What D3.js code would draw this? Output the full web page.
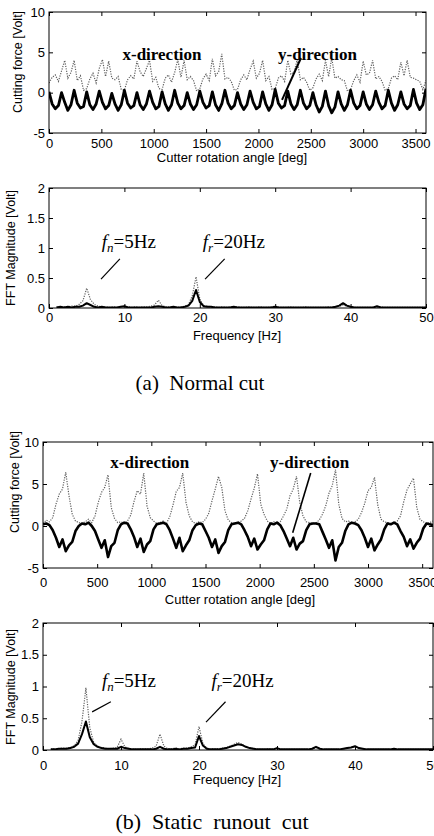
<!DOCTYPE html>
<html>
<head>
<meta charset="utf-8">
<script src="https://cdn.jsdelivr.net/npm/d3@7/dist/d3.min.js"></script>
<style>
  body { margin: 0; background: #fff; }
  text { font-family: "Liberation Sans", Arial, sans-serif; fill: #000; }
  .serif { font-family: "Liberation Serif", "Times New Roman", serif; white-space: pre; }
</style>
</head>
<body>
<div id="chart"></div>
<script>
// x grids (cutter angle every 30 deg, FFT bins every 0.5 Hz from 1 Hz)
var angles = d3.range(0, 3601, 30);
var freqs = d3.range(1, 50.001, 0.5);

var angleTicks = [0, 500, 1000, 1500, 2000, 2500, 3000, 3500];
var forceTicks = [-5, 0, 5, 10];
var freqTicks = [0, 10, 20, 30, 40, 50];
var magTicks = [0, 0.5, 1, 1.5, 2];

// (a) normal cut, cutting force [Volt]
var normalX = [
  1.2, 1.9, 2.2, 1.4, 2.7, 4.0, 1.8, 2.5, 4.0, 1.5, 2.1, 0.3,
  0.5, 1.7, 2.4, 1.2, 3.0, 4.1, 2.0, 3.9, 1.8, 1.6, 2.0, 0.4,
  0.3, 1.6, 2.1, 1.7, 3.9, 2.6, 2.0, 3.0, 4.0, 1.4, 1.9, 0.5,
  0.4, 1.8, 2.2, 1.3, 2.5, 4.1, 1.9, 4.0, 1.6, 2.0, 1.5, 0.2,
  0.5, 1.7, 2.3, 1.5, 4.2, 2.1, 2.6, 4.8, 1.7, 1.9, 1.4, 0.3,
  0.4, 1.6, 2.2, 1.6, 2.9, 3.9, 1.8, 2.4, 4.0, 1.5, 2.0, 0.4,
  0.5, 1.8, 2.1, 1.4, 4.0, 2.3, 2.5, 4.1, 1.6, 1.9, 1.3, 0.3,
  0.6, 1.7, 2.3, 1.5, 4.0, 2.0, 4.3, 1.8, 2.0, 1.6, 1.5, 0.2,
  0.4, 1.5, 2.2, 1.3, 3.9, 2.2, 2.4, 4.0, 1.7, 2.0, 1.4, 0.3,
  0.5, 1.8, 2.1, 1.6, 3.8, 2.1, 4.0, 1.9, 1.8, 1.6, 1.4, 0.4,
  1.5
];
var normalY = [
  0.1, -1.4, -2.0, -1.6,   0.0, -1.2, -2.2, -1.5,   0.3, -1.3, -1.9, -1.7,
  0.1, -1.5, -2.1, -1.4,   0.2, -1.2, -2.0, -1.6,  -0.1, -1.4, -2.2, -1.5,
  0.3, -1.3, -1.9, -1.6,   0.0, -1.5, -2.1, -1.4,   0.2, -1.2, -2.0, -1.7,
  0.1, -1.4, -2.2, -1.5,   0.3, -1.3, -2.0, -1.6,   0.0, -1.4, -2.1, -1.5,
  0.2, -1.2, -1.9, -1.6,   0.1, -1.5, -2.2, -1.4,   0.3, -1.3, -2.0, -1.6,
  0.0, -1.4, -2.1, -1.5,   0.2, -1.2, -2.0, -1.7,   0.1, -1.4, -2.2, -1.5,
  0.4, -1.3, -1.9, -1.6,   0.2, -1.4, -2.1, -1.5,   0.3, -1.3, -2.0, -1.6,
  0.0, -1.5, -2.4, -1.7,   0.2, -1.6, -2.5, -1.8,   0.1, -1.4, -2.2, -1.5,
  0.3, -1.3, -2.0, -1.6,   0.1, -1.4, -2.1, -1.5,   0.2, -1.2, -2.0, -1.6,
  0.3, -1.3, -2.2, -1.5,   0.1, -1.4, -2.0, -1.6,   0.4, -1.3, -2.1, -1.5,
  0.5
];

// (b) static runout cut, cutting force [Volt]
var runoutX = [
  0.3, 0.7, 0.5, 1.0, 2.6, 3.8, 4.4, 6.4, 3.6, 1.4, 0.6, 0.4,
  0.3, 0.5, 0.8, 0.4, 1.2, 2.8, 4.0, 4.6, 6.1, 2.2, 0.9, 0.4,
  0.5, 0.3, 0.6, 1.3, 2.9, 4.2, 3.8, 6.3, 2.4, 1.0, 0.6, 0.3,
  0.4, 0.6, 0.3, 1.1, 2.5, 4.1, 4.6, 6.3, 2.8, 1.2, 0.5, 0.3,
  0.5, 0.4, 0.8, 1.5, 3.0, 4.4, 5.9, 4.6, 1.8, 0.7, 0.4, 0.3,
  0.4, 0.6, 0.9, 1.8, 3.2, 4.5, 6.2, 2.6, 1.4, 0.6, 0.3, 0.5,
  0.3, 0.5, 1.2, 2.0, 3.6, 4.4, 5.9, 2.8, 1.2, 0.5, 0.4, 0.3,
  0.4, 0.7, 1.4, 2.4, 3.9, 4.8, 6.7, 2.6, 0.9, 0.5, 0.6, 0.3,
  0.5, 0.8, 1.6, 2.7, 4.2, 4.6, 5.8, 2.5, 0.8, 0.5, 0.4, 0.3,
  0.4, 0.6, 1.2, 2.9, 4.3, 5.0, 5.7, 2.2, 0.8, 0.5, 0.3, 0.4,
  0.6
];
var runoutY = [
  0.2, 0.3, 0.1, -0.5, -1.4, -2.5, -1.6, -3.0, -2.3, -1.9, -0.6, 0.0,
  0.3, 0.2, 0.4, 0.0, -0.6, -1.6, -2.6, -1.7, -3.7, -2.4, -2.0, -0.5,
  0.2, 0.4, 0.3, -0.4, -1.3, -2.5, -1.5, -3.1, -2.2, -1.8, -0.4, 0.2,
  0.3, 0.4, 0.2, -0.5, -1.5, -2.6, -1.4, -3.0, -2.3, -1.7, -0.5, 0.1,
  0.3, 0.2, -0.6, -1.4, -2.5, -1.6, -3.2, -2.4, -1.9, -0.5, 0.2, 0.3,
  0.4, 0.2, -0.5, -1.3, -2.4, -1.5, -2.8, -2.2, -1.7, -0.4, 0.3, 0.2,
  0.4, 0.1, -0.6, -1.5, -2.4, -1.4, -2.8, -2.1, -1.8, -0.5, 0.2, 0.3,
  0.3, 0.2, -0.7, -1.6, -2.6, -1.7, -4.1, -2.5, -2.0, -0.6, 0.2, 0.4,
  0.3, 0.1, -0.5, -1.4, -2.5, -1.5, -2.9, -2.2, -1.6, -0.4, 0.3, 0.2,
  0.4, 0.2, -0.6, -1.3, -2.4, -1.6, -2.7, -2.0, -1.5, -0.3, 0.3, 0.2,
  0.1
];

// FFT magnitude [Volt], 1.0 .. 50.0 Hz
var normalFftX = [
  .02, .01, .02, .02, .03, .03, .06, .12, .33, .14,
  .06, .03, .02, .02, .01, .02, .01, .02, .03, .02,
  .01, .02, .01, .02, .02, .03, .05, .13, .04, .02,
  .02, .02, .01, .02, .03, .06, .20, .52, .15, .04,
  .03, .02, .02, .01, .02, .01, .02, .01, .02, .01,
  .01, .02, .01, .01, .02, .01, .01, .02, .03, .01,
  .01, .01, .02, .01, .01, .01, .02, .01, .01, .01,
  .01, .01, .02, .01, .02, .03, .05, .03, .02, .01,
  .01, .01, .01, .01, .01, .02, .02, .01, .01, .01,
  .01, .01, .01, .01, .01, .01, .01, .01, .01
];
var normalFftY = [
  .01, .02, .01, .02, .01, .02, .02, .04, .08, .05,
  .02, .01, .02, .01, .01, .01, .01, .02, .03, .01,
  .01, .01, .01, .01, .01, .01, .02, .03, .02, .01,
  .01, .02, .01, .01, .02, .04, .12, .30, .10, .03,
  .02, .02, .01, .01, .01, .01, .01, .02, .01, .01,
  .01, .01, .01, .01, .01, .01, .01, .01, .02, .01,
  .01, .01, .01, .01, .01, .01, .01, .01, .01, .01,
  .01, .01, .01, .01, .02, .04, .08, .04, .02, .01,
  .01, .01, .01, .01, .01, .03, .01, .01, .01, .01,
  .01, .01, .01, .01, .01, .01, .01, .01, .01
];
var runoutFftX = [
  .01, .02, .02, .03, .03, .04, .07, .15, .45, .98,
  .35, .12, .06, .04, .03, .02, .03, .04, .17, .05,
  .02, .02, .01, .02, .02, .02, .03, .06, .25, .06,
  .02, .02, .03, .02, .03, .03, .05, .08, .37, .10,
  .03, .02, .02, .02, .03, .04, .06, .09, .12, .09,
  .05, .03, .02, .02, .01, .01, .02, .01, .03, .01,
  .01, .01, .01, .01, .01, .01, .01, .02, .04, .02,
  .01, .01, .01, .01, .01, .02, .03, .04, .05, .03,
  .02, .01, .01, .01, .01, .01, .01, .01, .02, .01,
  .01, .01, .01, .01, .01, .01, .01, .01, .01
];
var runoutFftY = [
  .01, .01, .02, .02, .02, .03, .05, .10, .25, .45,
  .20, .09, .05, .03, .02, .02, .02, .02, .05, .03,
  .02, .01, .01, .01, .01, .01, .01, .02, .05, .02,
  .01, .01, .02, .01, .02, .02, .03, .04, .22, .07,
  .02, .01, .01, .01, .02, .03, .05, .07, .09, .08,
  .05, .03, .02, .01, .01, .01, .01, .01, .03, .01,
  .01, .01, .01, .01, .01, .01, .01, .02, .05, .02,
  .01, .01, .01, .01, .01, .02, .03, .04, .06, .03,
  .02, .01, .01, .01, .01, .01, .01, .01, .02, .01,
  .01, .01, .01, .01, .01, .01, .01, .01, .01
];

var svg = d3.select('#chart').append('svg')
    .attr('width', 434)
    .attr('height', 836)
    .style('background', '#fff');

var panels = [
  {left: 49, right: 426, top: 12, bottom: 133, xs: angles, xDomain: [0, 3600], yDomain: [-5, 10],
   xTicks: angleTicks, yTicks: forceTicks, dotted: normalX, solid: normalY, solidWidth: 2.8,
   xPad: 6, xLabel: 'Cutter rotation angle [deg]', xLabelY: 162, xLabelX: 232,
   yLabel: 'Cutting force [Volt]', yLabelX: 18, yLabelY: 62},
  {left: 49, right: 426, top: 188, bottom: 308, xs: freqs, xDomain: [0, 50], yDomain: [0, 2],
   xTicks: freqTicks, yTicks: magTicks, dotted: normalFftX, solid: normalFftY, solidWidth: 2,
   xPad: 5, xLabel: 'Frequency [Hz]', xLabelY: 340, xLabelX: 237,
   yLabel: 'FFT Magnitude [Volt]', yLabelX: 11, yLabelY: 248},
  {left: 43, right: 433, top: 442, bottom: 568, xs: angles, xDomain: [0, 3600], yDomain: [-5, 10],
   xTicks: angleTicks, yTicks: forceTicks, dotted: runoutX, solid: runoutY, solidWidth: 2.6,
   xPad: 10, xLabel: 'Cutter rotation angle [deg]', xLabelY: 604, xLabelX: 240,
   yLabel: 'Cutting force [Volt]', yLabelX: 15, yLabelY: 482},
  {left: 43, right: 433, top: 623, bottom: 750, xs: freqs, xDomain: [0, 50], yDomain: [0, 2],
   xTicks: freqTicks, yTicks: magTicks, dotted: runoutFftX, solid: runoutFftY, solidWidth: 2,
   xPad: 11, xLabel: 'Frequency [Hz]', xLabelY: 784, xLabelX: 237,
   yLabel: 'FFT Magnitude [Volt]', yLabelX: 11, yLabelY: 687}
];

function tickText(d) {
  return String(d);
}

panels.forEach(function(p, n) {
  var x = d3.scaleLinear().domain(p.xDomain).range([p.left, p.right]);
  var y = d3.scaleLinear().domain(p.yDomain).range([p.bottom, p.top]);
  p.x = x;
  p.y = y;
  var g = svg.append('g');

  g.append('clipPath').attr('id', 'clip' + n)
    .append('rect')
      .attr('x', p.left).attr('y', p.top)
      .attr('width', p.right - p.left).attr('height', p.bottom - p.top);

  var line = d3.line()
      .x(function(d, i) { return x(p.xs[i]); })
      .y(function(d) { return y(d); });

  var plot = g.append('g').attr('clip-path', 'url(#clip' + n + ')');
  plot.append('path')
      .datum(p.dotted)
      .attr('d', line)
      .attr('fill', 'none')
      .attr('stroke', '#5f5f5f')
      .attr('stroke-width', 1.2)
      .attr('stroke-dasharray', '1.2,1.3');
  plot.append('path')
      .datum(p.solid)
      .attr('d', line)
      .attr('fill', 'none')
      .attr('stroke', '#000')
      .attr('stroke-width', p.solidWidth)
      .attr('stroke-linejoin', 'round');

  // axes, MATLAB style ticks pointing inward on all four sides
  g.append('g')
      .attr('transform', 'translate(0,' + p.bottom + ')')
      .call(d3.axisBottom(x).tickValues(p.xTicks).tickFormat(tickText).tickSize(-4).tickPadding(p.xPad));
  g.append('g')
      .attr('transform', 'translate(' + p.left + ',0)')
      .call(d3.axisLeft(y).tickValues(p.yTicks).tickFormat(tickText).tickSize(-4).tickPadding(4));
  g.append('g')
      .attr('transform', 'translate(0,' + p.top + ')')
      .call(d3.axisTop(x).tickValues(p.xTicks).tickFormat('').tickSize(-4));
  g.append('g')
      .attr('transform', 'translate(' + p.right + ',0)')
      .call(d3.axisRight(y).tickValues(p.yTicks).tickFormat('').tickSize(-4));

  g.selectAll('.domain').remove();
  g.selectAll('.tick line').attr('stroke', '#000');
  g.selectAll('.tick text')
      .attr('font-family', '"Liberation Sans", Arial, sans-serif')
      .attr('font-size', 13);

  g.append('rect')
      .attr('x', p.left).attr('y', p.top)
      .attr('width', p.right - p.left).attr('height', p.bottom - p.top)
      .attr('fill', 'none')
      .attr('stroke', '#000')
      .attr('stroke-width', 1);

  g.append('text')
      .attr('x', p.xLabelX)
      .attr('y', p.xLabelY)
      .attr('text-anchor', 'middle')
      .attr('font-size', 13)
      .text(p.xLabel);

  g.append('text')
      .attr('transform', 'translate(' + p.yLabelX + ',' + p.yLabelY + ') rotate(-90)')
      .attr('text-anchor', 'middle')
      .attr('dy', '0.35em')
      .attr('font-size', 12.5)
      .text(p.yLabel);
});

// direction labels and pointer lines, placed in data units of each panel
var dirLabels = [
  {panel: 0, text: 'x-direction', at: [1079, 4.0]},
  {panel: 0, text: 'y-direction', at: [2564, 4.0]},
  {panel: 2, text: 'x-direction', at: [986, 6.9]},
  {panel: 2, text: 'y-direction', at: [2461, 6.9]}
];
var pointers = [
  {panel: 0, from: [2406, 4.3], to: [2225, -0.9], width: 2},
  {panel: 2, from: [2471, 6.3], to: [2305, -0.8], width: 1.6},
  {panel: 1, from: [9.4, 0.82], to: [6.9, 0.48], width: 1.2},
  {panel: 1, from: [23.3, 0.82], to: [20.7, 0.48], width: 1.2},
  {panel: 3, from: [8.7, 0.76], to: [6.3, 0.60], width: 1.2},
  {panel: 3, from: [23.4, 0.76], to: [20.9, 0.44], width: 1.2}
];
var freqLabels = [
  {panel: 1, sub: 'n', rest: '=5Hz', at: [7.0, 1.0]},
  {panel: 1, sub: 'r', rest: '=20Hz', at: [20.4, 1.0]},
  {panel: 3, sub: 'n', rest: '=5Hz', at: [7.55, 1.0]},
  {panel: 3, sub: 'r', rest: '=20Hz', at: [21.6, 1.0]}
];

dirLabels.forEach(function(d) {
  var p = panels[d.panel];
  svg.append('text')
      .attr('class', 'serif')
      .attr('x', p.x(d.at[0]))
      .attr('y', p.y(d.at[1]))
      .attr('text-anchor', 'middle')
      .attr('font-size', 17)
      .attr('font-weight', 'bold')
      .text(d.text);
});

pointers.forEach(function(d) {
  var p = panels[d.panel];
  svg.append('line')
      .attr('x1', p.x(d.from[0])).attr('y1', p.y(d.from[1]))
      .attr('x2', p.x(d.to[0])).attr('y2', p.y(d.to[1]))
      .attr('stroke', '#000')
      .attr('stroke-width', d.width);
});

freqLabels.forEach(function(d) {
  var p = panels[d.panel];
  var t = svg.append('text')
      .attr('class', 'serif')
      .attr('x', p.x(d.at[0]))
      .attr('y', p.y(d.at[1]))
      .attr('font-size', 19);
  t.append('tspan').attr('font-style', 'italic').text('f');
  t.append('tspan').attr('font-style', 'italic').attr('font-size', 13).attr('dy', 4).text(d.sub);
  t.append('tspan').attr('dy', -4).text(d.rest);
});

svg.append('text')
    .attr('class', 'serif')
    .attr('x', 200).attr('y', 390)
    .attr('text-anchor', 'middle')
    .attr('font-size', 21)
    .text('(a)  Normal cut');

svg.append('text')
    .attr('class', 'serif')
    .attr('x', 212).attr('y', 829)
    .attr('text-anchor', 'middle')
    .attr('font-size', 22)
    .text('(b)  Static  runout  cut');
</script>
</body>
</html>
